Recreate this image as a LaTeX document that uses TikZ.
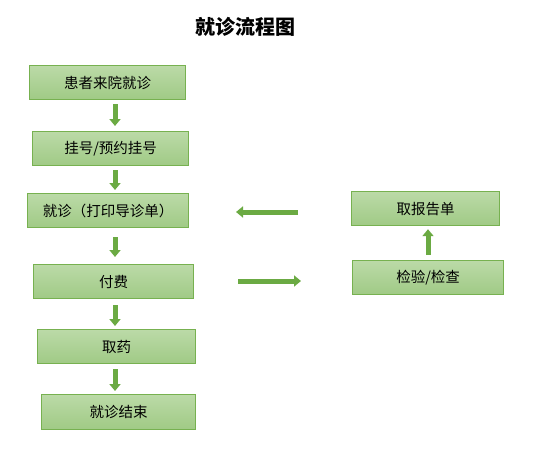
\documentclass[tikz,border=0pt]{standalone}
\usepackage{fontspec}
\newfontfamily\cjk{Noto Sans CJK SC}
\usetikzlibrary{arrows.meta}
\definecolor{boxtop}{HTML}{BBDAA7}
\definecolor{boxbot}{HTML}{A0CA85}
\definecolor{boxline}{HTML}{77B150}
\definecolor{arrowgreen}{HTML}{6BAA43}
\tikzset{
  flowbox/.style={draw=boxline, line width=1.2pt, top color=boxtop, bottom color=boxbot,
    font=\cjk\fontsize{14.5}{16}\selectfont, inner sep=0pt, anchor=north west},
  garrow/.style={draw=arrowgreen, line width=5pt,
    -{Triangle[width=11pt,length=7pt]}}
}
\begin{document}
\begin{tikzpicture}[x=1pt,y=-1pt]
\useasboundingbox (0,0) rectangle (533,452);
\node[font=\cjk\bfseries\fontsize{20}{22}\selectfont] (title) at (245,27) {就诊流程图};
\node[flowbox, minimum width=156pt, minimum height=34pt] (n1) at (29,65) {患者来院就诊};
\node[flowbox, minimum width=156pt, minimum height=34pt] (n2) at (32,131) {挂号/预约挂号};
\node[flowbox, minimum width=161pt, minimum height=34pt] (n3) at (27,193) {就诊（打印导诊单）};
\node[flowbox, minimum width=160pt, minimum height=34pt] (n4) at (33,264) {付费};
\node[flowbox, minimum width=158pt, minimum height=34pt] (n5) at (37,329) {取药};
\node[flowbox, minimum width=154pt, minimum height=35pt] (n6) at (41,394) {就诊结束};
\node[flowbox, minimum width=148pt, minimum height=34pt] (n7) at (351,191) {取报告单};
\node[flowbox, minimum width=151pt, minimum height=34pt] (n8) at (352,260) {检验/检查};
\coordinate (ax) at (115,0);
\coordinate (ux) at (428,0);
\draw[garrow, shorten <=4pt, shorten >=5pt] (n1.south -| ax) -- (n2.north -| ax);
\draw[garrow, shorten <=4pt, shorten >=3pt] (n2.south -| ax) -- (n3.north -| ax);
\draw[garrow, shorten <=9pt, shorten >=7pt] (n3.south -| ax) -- (n4.north -| ax);
\draw[garrow, shorten <=6pt, shorten >=3pt] (n4.south -| ax) -- (n5.north -| ax);
\draw[garrow, shorten <=5pt, shorten >=3pt] (n5.south -| ax) -- (n6.north -| ax);
\draw[garrow, shorten <=5pt, shorten >=3pt] (n8.north -| ux) -- (n7.south -| ux);
\coordinate (l1) at (298,212);
\coordinate (l2) at (236,212);
\coordinate (r1) at (238,281);
\coordinate (r2) at (301,281);
\draw[garrow] (l1) -- (l2);
\draw[garrow] (r1) -- (r2);
\end{tikzpicture}
\end{document}
